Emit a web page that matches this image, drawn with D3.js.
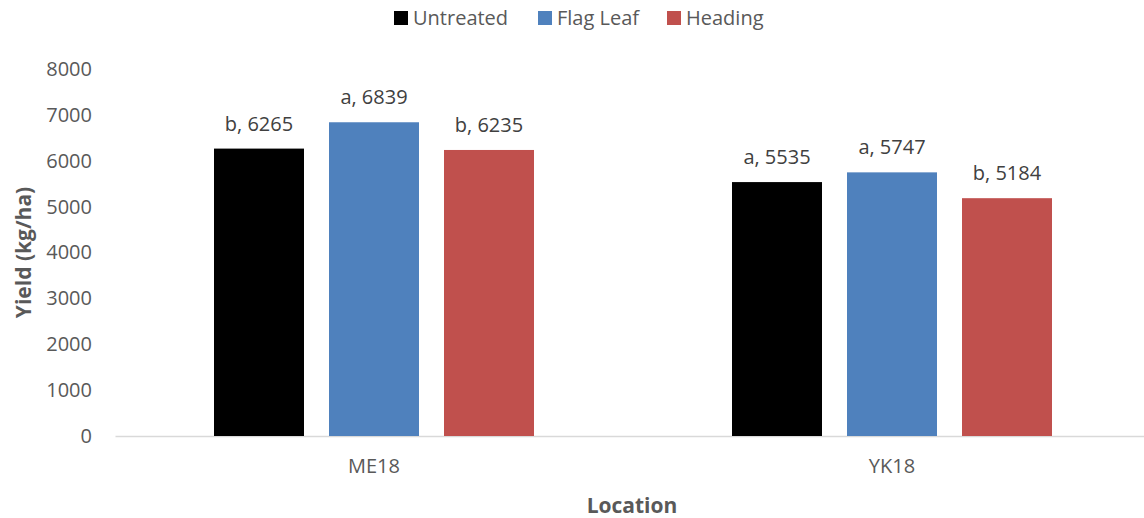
<!DOCTYPE html>
<html>
<head>
<meta charset="utf-8">
<script src="https://cdn.jsdelivr.net/npm/d3@7"></script>
<style>
  html, body { margin: 0; padding: 0; background: #fff; }
  svg { display: block; font-family: "Open Sans", "Noto Sans", sans-serif; }
</style>
</head>
<body>
<svg id="chart" width="1144" height="518"></svg>
<script>
// Yield by location and fungicide timing
const locations = ["ME18", "YK18"];
const treatments = ["Untreated", "Flag Leaf", "Heading"];
const untreated = [6265, 5535];
const flagLeaf = [6839, 5747];
const heading = [6235, 5184];
const letters = {
  "Untreated": ["b", "a"],
  "Flag Leaf": ["a", "a"],
  "Heading": ["b", "b"]
};
const yTicks = [0, 1000, 2000, 3000, 4000, 5000, 6000, 7000, 8000];
const colors = ["#000000", "#4F81BD", "#C0504D"];

const seriesValues = { "Untreated": untreated, "Flag Leaf": flagLeaf, "Heading": heading };

const svg = d3.select("#chart");
const W = 1144, H = 518;
const margin = { left: 115, right: -7, top: 69, bottom: 82 };
const plotBottom = H - margin.bottom; // 436

const x0 = d3.scaleBand()
  .domain(locations)
  .range([margin.left, W - margin.right])
  .paddingInner(0)
  .paddingOuter(0);

const x1 = d3.scaleBand()
  .domain(treatments)
  .range([0, 320])
  .paddingInner(25 / 115)
  .paddingOuter(0);

const y = d3.scaleLinear()
  .domain([0, 8000])
  .range([plotBottom, margin.top]);

const color = d3.scaleOrdinal().domain(treatments).range(colors);

// y axis tick labels (no axis line)
const yAxis = d3.axisLeft(y).tickValues(yTicks).tickSize(0).tickPadding(0).tickFormat(d3.format("d"));
const gy = svg.append("g").attr("transform", `translate(92,0)`).call(yAxis);
gy.select(".domain").remove();
gy.selectAll("text")
  .attr("fill", "#595959")
  .style("font-size", "20px")
  .style("font-family", "'Open Sans', sans-serif");

// x axis baseline and category labels
const xAxis = d3.axisBottom(x0).tickSize(0).tickPadding(23);
const gx = svg.append("g").attr("transform", `translate(0,${plotBottom})`).call(xAxis);
gx.select(".domain").attr("stroke", "#D9D9D9").attr("stroke-width", 1.5);
gx.selectAll("text")
  .attr("fill", "#595959")
  .style("font-size", "20px")
  .style("font-family", "'Open Sans', sans-serif");

// bars
const groups = svg.append("g").selectAll("g")
  .data(locations)
  .join("g")
  .attr("transform", (d) => `translate(${x0(d) + (x0.bandwidth() - 320) / 2},0)`);

groups.selectAll("rect")
  .data((loc, i) => treatments.map(t => ({ t, v: seriesValues[t][i], letter: letters[t][i] })))
  .join("rect")
  .attr("x", d => x1(d.t))
  .attr("width", x1.bandwidth())
  .attr("y", d => y(d.v))
  .attr("height", d => plotBottom - y(d.v))
  .attr("fill", d => color(d.t));

// data labels
groups.selectAll("text.lbl")
  .data((loc, i) => treatments.map(t => ({ t, v: seriesValues[t][i], letter: letters[t][i] })))
  .join("text")
  .attr("class", "lbl")
  .attr("x", d => x1(d.t) + x1.bandwidth() / 2)
  .attr("y", d => y(d.v) - 18)
  .attr("text-anchor", "middle")
  .attr("fill", "#404040")
  .style("font-size", "20px")
  .text(d => `${d.letter}, ${d.v}`);

// axis titles
svg.append("text")
  .attr("transform", `translate(31,${(plotBottom + margin.top) / 2}) rotate(-90)`)
  .attr("text-anchor", "middle")
  .attr("fill", "#595959")
  .style("font-size", "21px")
  .style("font-weight", "bold")
  .text("Yield (kg/ha)");

svg.append("text")
  .attr("x", 632)
  .attr("y", 513)
  .attr("text-anchor", "middle")
  .attr("fill", "#595959")
  .style("font-size", "21px")
  .style("font-weight", "bold")
  .text("Location");

// legend
const legendX = [394, 538, 667];
const legend = svg.append("g").selectAll("g")
  .data(treatments)
  .join("g")
  .attr("transform", (d, i) => `translate(${legendX[i]},11)`);
legend.append("rect").attr("width", 14).attr("height", 14).attr("fill", d => color(d));
legend.append("text")
  .attr("x", 19)
  .attr("y", 14)
  .attr("fill", "#595959")
  .style("font-size", "20px")
  .text(d => d);
</script>
</body>
</html>
